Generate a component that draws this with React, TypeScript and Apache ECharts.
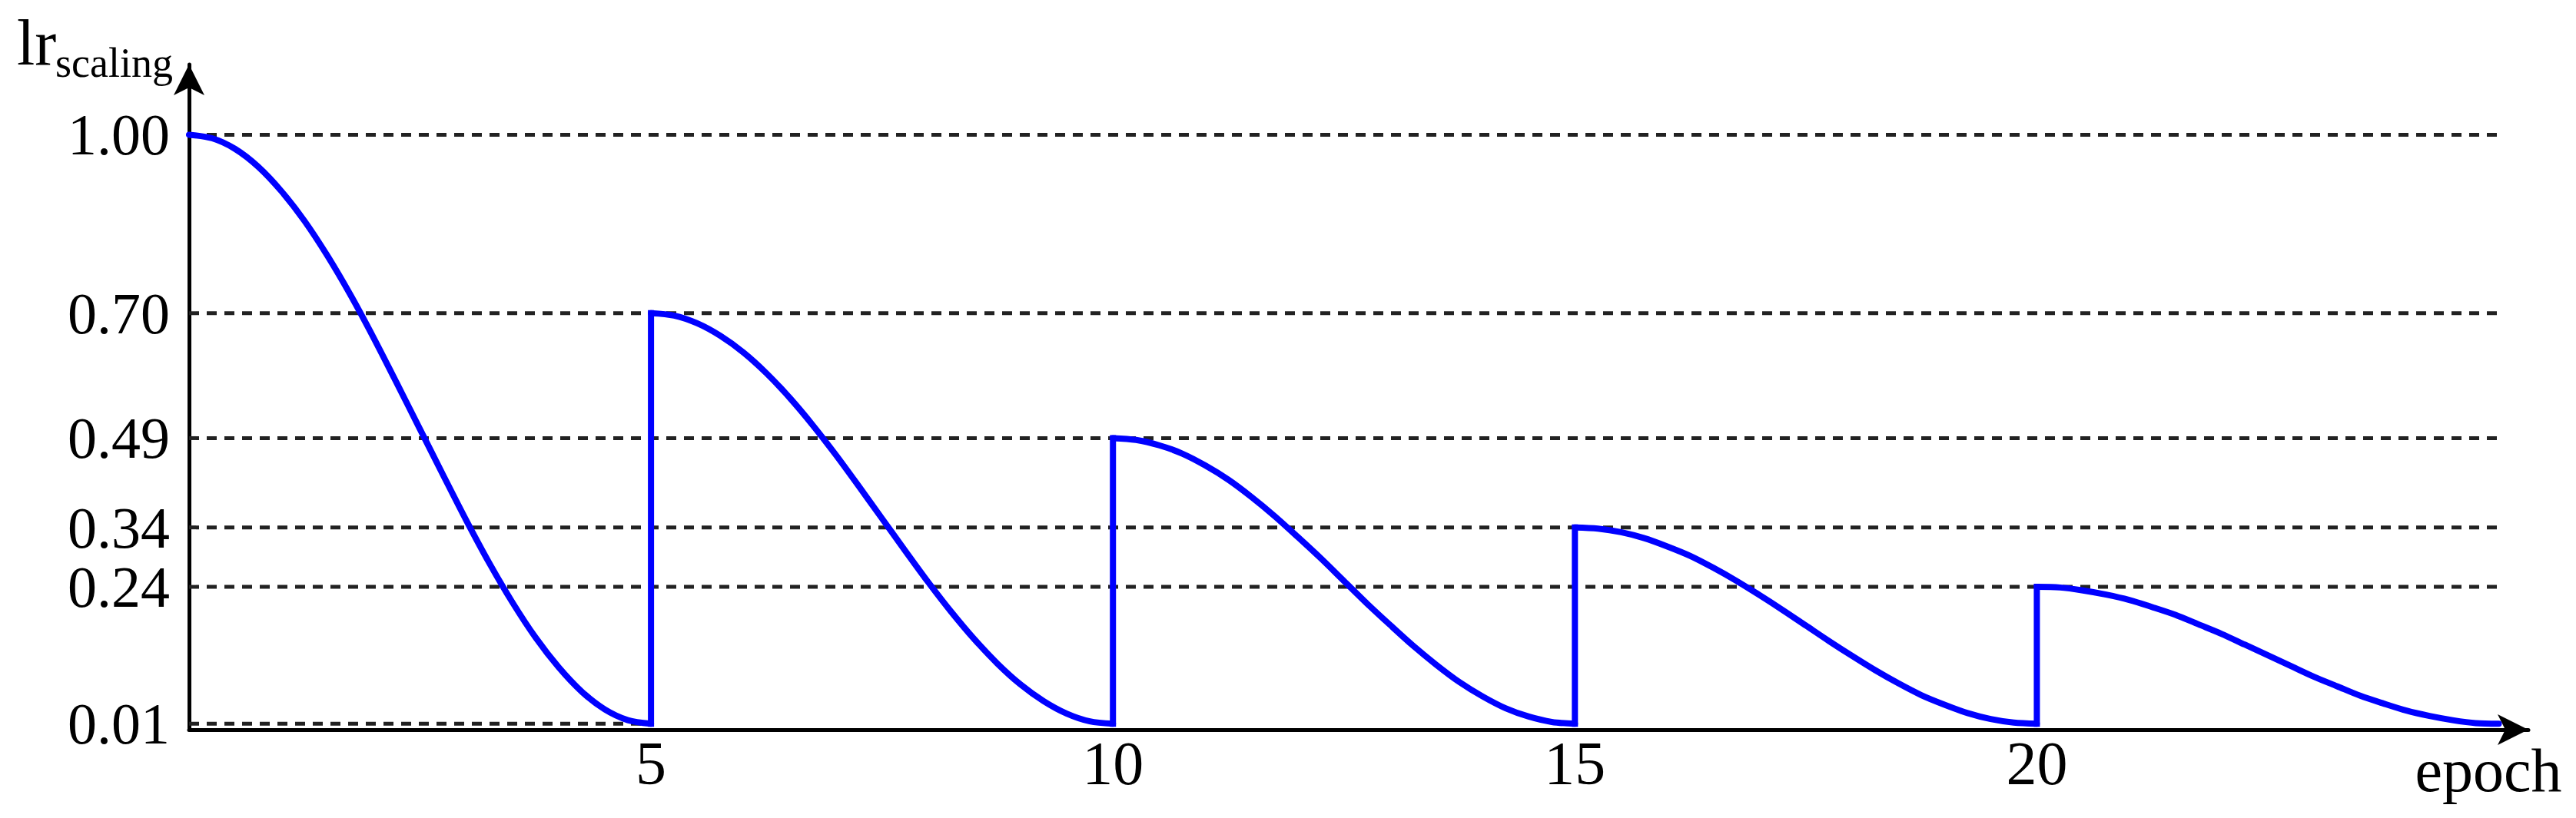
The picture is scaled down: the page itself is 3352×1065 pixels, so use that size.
import React, { useEffect, useRef } from "react";
import * as echarts from "echarts";

// Epoch offsets within one restart cycle (read at quarter-epoch spacing)
const cycleOffsets = [
  0, 0.25, 0.5, 0.75, 1, 1.25, 1.5, 1.75, 2, 2.25, 2.5, 2.75, 3, 3.25, 3.5,
  3.75, 4, 4.25, 4.5, 4.75, 5,
];
const cycleStarts = [0, 5, 10, 15, 20];

// lr_scaling values for each cycle
const cycle1 = [
  1.0, 0.994, 0.976, 0.946, 0.905, 0.855, 0.796, 0.73, 0.658, 0.582, 0.505,
  0.428, 0.352, 0.28, 0.214, 0.155, 0.105, 0.064, 0.034, 0.016, 0.01,
];
const cycle2 = [
  0.7, 0.696, 0.683, 0.662, 0.634, 0.599, 0.558, 0.512, 0.462, 0.409, 0.355,
  0.301, 0.248, 0.198, 0.152, 0.111, 0.076, 0.048, 0.027, 0.014, 0.01,
];
const cycle3 = [
  0.49, 0.487, 0.478, 0.464, 0.444, 0.42, 0.391, 0.359, 0.324, 0.288, 0.25,
  0.212, 0.176, 0.141, 0.109, 0.08, 0.056, 0.036, 0.022, 0.013, 0.01,
];
const cycle4 = [
  0.34, 0.338, 0.332, 0.322, 0.308, 0.292, 0.272, 0.25, 0.226, 0.201, 0.175,
  0.149, 0.124, 0.1, 0.078, 0.058, 0.042, 0.028, 0.018, 0.012, 0.01,
];
const cycle5 = [
  0.24, 0.239, 0.234, 0.227, 0.218, 0.206, 0.193, 0.177, 0.161, 0.143, 0.125,
  0.107, 0.089, 0.073, 0.057, 0.044, 0.032, 0.023, 0.016, 0.011, 0.01,
];
const cycles = [cycle1, cycle2, cycle3, cycle4, cycle5];

// Y tick labels and dashed guide levels
const yTickValues = [0.01, 0.24, 0.34, 0.49, 0.7, 1.0];
const xTickValues = [5, 10, 15, 20];
const guideLevels = [1.0, 0.7, 0.49, 0.34, 0.24, 0.01];
const guideEnds = [25, 25, 25, 25, 25, 5];

const FONT = "'Liberation Serif', 'Times New Roman', serif";
const BLUE = "#0000ff";

export default function App() {
  const ref = useRef<HTMLDivElement>(null);

  useEffect(() => {
    if (!ref.current) return;
    const chart = echarts.init(ref.current, undefined, { renderer: "svg" });

    const guideSeries = guideLevels.map((lv, i) => ({
      type: "line",
      data: [
        [0, lv],
        [guideEnds[i], lv],
      ],
      symbol: "none",
      silent: true,
      z: 1,
      lineStyle: { color: "#222", width: 5, type: [13, 10] },
    }));

    const cycleSeries = cycles.map((vals, ci) => ({
      type: "line",
      data: vals.map((v, i) => [cycleStarts[ci] + cycleOffsets[i], v]),
      symbol: "none",
      smooth: 0.3,
      z: 3,
      lineStyle: { color: BLUE, width: 8, join: "round", cap: "round" },
    }));

    const jumpSeries = cycles.slice(1).map((vals, k) => ({
      type: "line",
      data: [
        [cycleStarts[k + 1], cycles[k][cycles[k].length - 1]],
        [cycleStarts[k + 1], vals[0]],
      ],
      symbol: "none",
      z: 3,
      lineStyle: { color: BLUE, width: 8, cap: "square" },
    }));

    chart.setOption({
      animation: false,
      backgroundColor: "#ffffff",
      grid: { left: 246, right: 62, top: 84, bottom: 115, containLabel: false },
      xAxis: {
        type: "value",
        min: 0,
        max: 25.32,
        interval: 5,
        axisLine: {
          show: true,
          onZero: false,
          symbol: ["none", "arrow"],
          symbolSize: [30, 40],
          lineStyle: { color: "#000", width: 5 },
        },
        axisTick: { show: false },
        splitLine: { show: false },
        axisLabel: {
          customValues: xTickValues,
          margin: 12,
          fontFamily: FONT,
          fontSize: 80,
          lineHeight: 64,
          color: "#000",
        },
      },
      yAxis: {
        type: "value",
        min: 0,
        max: 1.118,
        axisLine: {
          show: true,
          onZero: false,
          symbol: ["none", "arrow"],
          symbolSize: [30, 40],
          lineStyle: { color: "#000", width: 5 },
        },
        axisTick: { show: false },
        splitLine: { show: false },
        axisLabel: {
          customValues: yTickValues,
          margin: 25,
          fontFamily: FONT,
          fontSize: 76,
          lineHeight: 60,
          color: "#000",
          formatter: (v: number) => v.toFixed(2),
        },
      },
      graphic: [
        {
          type: "text",
          x: 22,
          y: 55,
          style: {
            text: "lr",
            font: `84px ${FONT}`,
            fill: "#000",
            textAlign: "left",
            textVerticalAlign: "middle",
          },
        },
        {
          type: "text",
          x: 72,
          y: 82,
          style: {
            text: "scaling",
            font: `54px ${FONT}`,
            fill: "#000",
            textAlign: "left",
            textVerticalAlign: "middle",
          },
        },
        {
          type: "text",
          x: 3238,
          y: 1003,
          style: {
            text: "epoch",
            font: `80px ${FONT}`,
            fill: "#000",
            textAlign: "center",
            textVerticalAlign: "middle",
          },
        },
      ],
      series: [...guideSeries, ...jumpSeries, ...cycleSeries],
    });

    return () => chart.dispose();
  }, []);

  return (
    <div
      ref={ref}
      style={{ position: "fixed", left: 0, top: 0, width: 3352, height: 1065 }}
    />
  );
}
